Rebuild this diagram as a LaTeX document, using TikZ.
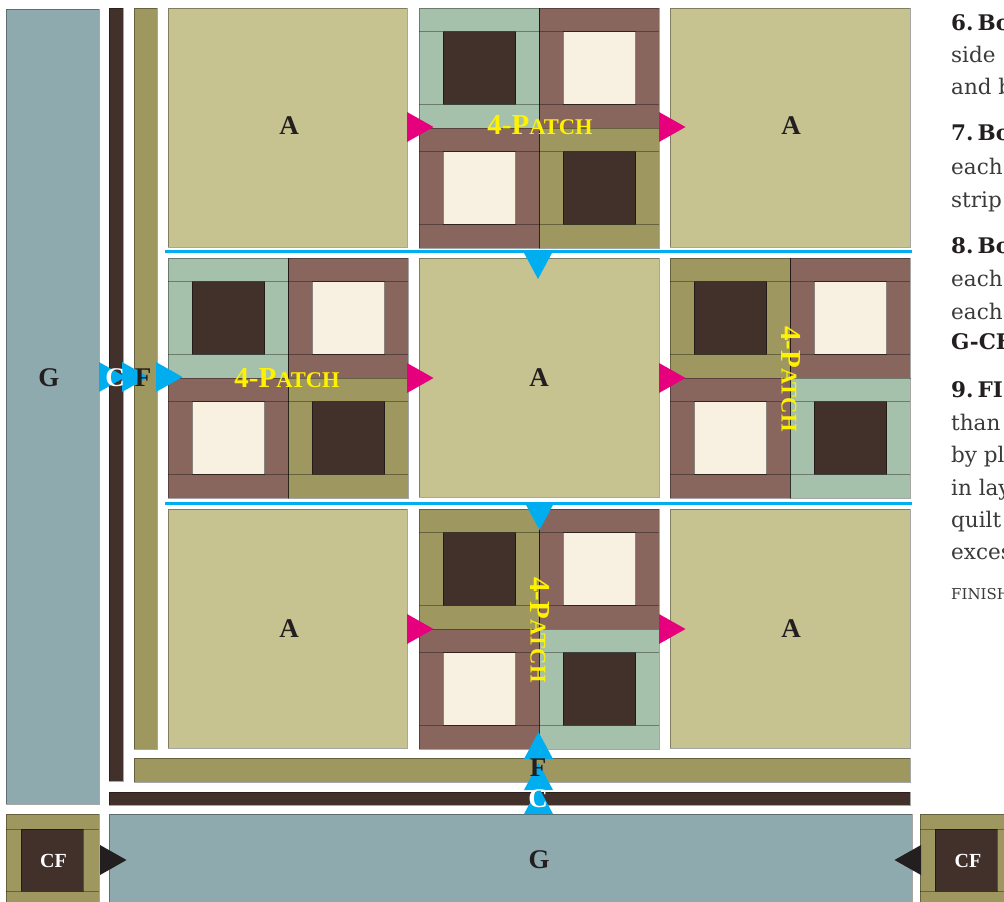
\documentclass[tikz,border=0pt]{standalone}
\usepackage{fontspec}
\setmainfont{Liberation Serif}
\newfontfamily\sidefont{DejaVu Serif}
\definecolor{cG}{HTML}{8FAAAE}
\definecolor{cDark}{HTML}{42302A}
\definecolor{cOlive}{HTML}{9E9860}
\definecolor{cA}{HTML}{C6C391}
\definecolor{cGreen}{HTML}{A5C0AB}
\definecolor{cBrown}{HTML}{88665E}
\definecolor{cCream}{HTML}{F8F1E1}
\definecolor{cMag}{HTML}{E6007E}
\definecolor{cBlue}{HTML}{00AEEF}
\definecolor{cYel}{HTML}{FFF200}
\definecolor{cBlk}{HTML}{231F20}
\definecolor{cText}{HTML}{3A3A3A}
\tikzset{
  piece/.style={draw=black,draw opacity=0.35,line width=0.7pt},
  seam/.style={draw=black,draw opacity=0.35,line width=0.8pt},
  lab/.style={font=\bfseries\fontsize{27}{27}\selectfont,text=cBlk,inner sep=0pt},
  labw/.style={font=\bfseries\fontsize{27}{27}\selectfont,text=white,inner sep=0pt},
  cf/.style={font=\bfseries\fontsize{20}{20}\selectfont,text=white,inner sep=0pt},
  patchlab/.style={font=\bfseries,text=cYel,inner sep=0pt},
  body/.style={font=\sidefont\fontsize{21.5}{21.5}\selectfont,text=cText,anchor=base west,inner sep=0pt},
  bodyb/.style={font=\sidefont\bfseries\fontsize{21.5}{21.5}\selectfont,text=cBlk,anchor=base west,inner sep=0pt},
  small/.style={font=\sidefont\fontsize{15}{15}\selectfont,text=cText,anchor=base west,inner sep=0pt},
  rule/.style={draw=cBlue,line width=2.6pt}
}
\newcommand{\rr}[5]{\path[piece,fill=#5] (#1,#2) rectangle (#3,#4);}
\newcommand{\blk}[5]{%
  \path[piece,fill=#4] (#1,#2) rectangle ++(#3,#3);
  \path[seam] (#1,#2) ++(0,23.5) -- ++(#3,0);
  \path[seam] (#1,#2) ++(0,96) -- ++(#3,0);
  \path[draw=black,draw opacity=0.45,line width=0.6pt,fill=#5] (#1,#2) ++(24,23.5) rectangle ++(72.5,72.5);
}
\newcommand{\patch}[6]{%
  \blk{#1}{#2}{120}{#3}{#4}
  \pgfmathsetmacro{\xb}{#1+120}\pgfmathsetmacro{\yb}{#2+120}
  \blk{\xb}{#2}{120}{cBrown}{cCream}
  \blk{#1}{\yb}{120}{cBrown}{cCream}
  \blk{\xb}{\yb}{120}{#5}{#6}
  \path[draw=black,draw opacity=0.6,line width=0.8pt] (\xb,#2) -- ++(0,240);
}
\newcommand{\patchtxt}{\fontsize{29}{29}\selectfont 4-P\fontsize{22.5}{22.5}\selectfont ATCH}
\newcommand{\triR}[3]{\fill[#3] (#1,#2) ++(0,-15) -- ++(26.5,15) -- ++(-26.5,15) -- cycle;}
\newcommand{\triL}[3]{\fill[#3] (#1,#2) ++(0,-15) -- ++(-26.5,15) -- ++(26.5,15) -- cycle;}
\newcommand{\triD}[3]{\fill[#3] (#1,#2) ++(-14.5,0) -- ++(14.5,27) -- ++(14.5,-27) -- cycle;}
\newcommand{\triU}[3]{\fill[#3] (#1,#2) ++(-14.5,0) -- ++(14.5,-27) -- ++(14.5,27) -- cycle;}
\begin{document}
\begin{tikzpicture}[x=1pt,y=-1pt]
\useasboundingbox (0,0) rectangle (1004,902);
\clip (0,0) rectangle (1004,902);
\rr{6}{9}{99}{804}{cG}
\rr{109}{8}{123}{781}{cDark}
\rr{134}{8}{157}{749}{cOlive}
\rr{134}{758}{910}{782}{cOlive}
\rr{109}{792}{910}{805}{cDark}
\rr{109}{814}{912}{903}{cG}
\rr{168}{8}{407}{247}{cA}
\rr{670}{8}{910}{247}{cA}
\rr{419}{258}{659}{497}{cA}
\rr{168}{509}{407}{748}{cA}
\rr{670}{509}{910}{748}{cA}
\patch{419}{8}{cGreen}{cDark}{cOlive}{cDark}
\patch{168}{258}{cGreen}{cDark}{cOlive}{cDark}
\patch{670}{258}{cOlive}{cDark}{cGreen}{cDark}
\patch{419}{509}{cOlive}{cDark}{cGreen}{cDark}
\path[piece,fill=cOlive] (6,814) rectangle (99,903);
\path[seam] (6,829) -- (99,829) (6,891) -- (99,891);
\path[draw=black,draw opacity=0.45,line width=0.6pt,fill=cDark] (21,829) rectangle (83,891);
\path[piece,fill=cOlive] (920,814) rectangle (1005,903);
\path[seam] (920,829) -- (1005,829) (920,891) -- (1005,891);
\path[draw=black,draw opacity=0.45,line width=0.6pt,fill=cDark] (935,829) rectangle (997,891);
\draw[rule] (165,251.5) -- (912,251.5);
\draw[rule] (165,503.5) -- (912,503.5);
\triR{407}{127}{cMag}\triR{659}{127}{cMag}
\triR{407}{378}{cMag}\triR{659}{378}{cMag}
\triR{407}{629}{cMag}\triR{659}{629}{cMag}
\triD{538}{252}{cBlue}\triD{539.5}{503}{cBlue}
\triR{99}{377}{cBlue}\triR{122}{377}{cBlue}\triR{156}{377}{cBlue}
\triU{538.5}{759}{cBlue}\triU{538.5}{790}{cBlue}\triU{538.5}{814}{cBlue}
\triR{100}{860}{cBlk}
\triL{921}{860}{cBlk}
\node[lab] (a1) at (289,126) {A};
\node[lab] (a2) at (791,126) {A};
\node[lab] (a3) at (539,378) {A};
\node[lab] (a4) at (289,629) {A};
\node[lab] (a5) at (791,629) {A};
\node[lab] (g1) at (49,378) {G};
\node[labw] (c1) at (115,378) {C};
\node[lab] (f1) at (143,378) {F};
\node[lab] (f2) at (538,768) {F};
\node[labw] (c2) at (538,799) {C};
\node[lab] (g2) at (539,860) {G};
\node[cf] (cf1) at (53.5,861) {CF};
\node[cf] (cf2) at (968,861) {CF};
\node[patchlab] (p1) at (540,125) {\patchtxt};
\node[patchlab] (p2) at (287,378) {\patchtxt};
\node[patchlab,rotate=-90] (p3) at (791,379) {\patchtxt};
\node[patchlab,rotate=-90] (p4) at (540,630) {\patchtxt};
\node[bodyb] (t1) at (951,30) {6.\hspace{4pt}Bo};
\node[body] (t2) at (951,62) {side};
\node[body] (t3) at (951,94) {and b};
\node[bodyb] (t4) at (951,140) {7.\hspace{4pt}Bo};
\node[body] (t5) at (951,174) {each};
\node[body] (t6) at (951,207) {strip};
\node[bodyb] (t7) at (951,253) {8.\hspace{4pt}Bo};
\node[body] (t8) at (951,286) {each};
\node[body] (t9) at (951,319) {each};
\node[bodyb] (t10) at (951,349) {G-CF};
\node[bodyb] (t11) at (951,397) {9.\hspace{4pt}FI};
\node[body] (t12) at (951,430) {than};
\node[body] (t13) at (951,462) {by pl};
\node[body] (t14) at (951,495) {in lay};
\node[body] (t15) at (951,527) {quilt};
\node[body] (t16) at (951,559) {exces};
\node[small] (t17) at (951,599) {FINISH};
\end{tikzpicture}
\end{document}
